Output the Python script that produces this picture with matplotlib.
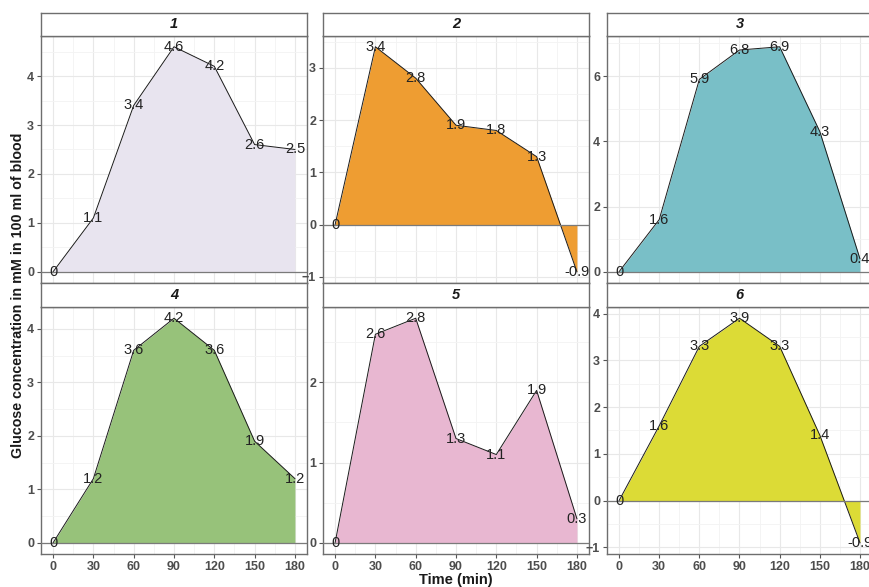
import matplotlib
matplotlib.use("Agg")
import matplotlib.pyplot as plt
from matplotlib.ticker import MultipleLocator, AutoMinorLocator

plt.rcParams['font.family'] = ['Liberation Sans', 'DejaVu Sans']

times = [0, 30, 60, 90, 120, 150, 180]
panel_names = ["1", "2", "3", "4", "5", "6"]
series_1 = [0, 1.1, 3.4, 4.6, 4.2, 2.6, 2.5]
series_2 = [0, 3.4, 2.8, 1.9, 1.8, 1.3, -0.9]
series_3 = [0, 1.6, 5.9, 6.8, 6.9, 4.3, 0.4]
series_4 = [0, 1.2, 3.6, 4.2, 3.6, 1.9, 1.2]
series_5 = [0, 2.6, 2.8, 1.3, 1.1, 1.9, 0.3]
series_6 = [0, 1.6, 3.3, 3.9, 3.3, 1.4, -0.9]
all_series = [series_1, series_2, series_3, series_4, series_5, series_6]
fill_colors = ["#E8E4EF", "#EE9D32", "#79BFC7", "#97C27A", "#E8B7D1", "#DCDB36"]
x_ticks = [0, 30, 60, 90, 120, 150, 180]
x_label = "Time (min)"
y_label = "Glucose concentration in mM in 100 ml of blood"

W, H = 870, 587
fig = plt.figure(figsize=(W / 100, H / 100), dpi=100)

col_px = [(41, 307), (323, 589), (607, 872)]
row_px = [(13, 35.5, 283), (283, 307, 554)]  # strip top, panel top, panel bottom

border = "#6E6E6E"
for i, (name, vals, col) in enumerate(zip(panel_names, all_series, fill_colors)):
    r, c = divmod(i, 3)
    x0, x1 = col_px[c]
    st, pt, pb = row_px[r]
    ax = fig.add_axes([x0 / W, 1 - pb / H, (x1 - x0) / W, (pb - pt) / H])
    sax = fig.add_axes([x0 / W, 1 - pt / H, (x1 - x0) / W, (pt - st) / H])

    # strip
    sax.set_xticks([]); sax.set_yticks([])
    sax.set_facecolor("white")
    for s in sax.spines.values():
        s.set_color(border); s.set_linewidth(1.0)
    sax.text(0.5, 0.5, name, ha="center", va="center", fontsize=10.5,
             fontweight="bold", fontstyle="italic", color="#1A1A1A", transform=sax.transAxes)

    # panel
    lo, hi = min(vals), max(vals)
    pad = 0.05 * (hi - lo)
    ax.set_ylim(lo - pad, hi + pad)
    ax.set_xlim(-9, 189)
    ax.set_axisbelow(True)
    ax.grid(which="major", color="#E8E8E8", linewidth=0.8)
    ax.grid(which="minor", color="#F3F3F3", linewidth=0.6)
    ax.set_xticks(x_ticks)
    ax.xaxis.set_minor_locator(AutoMinorLocator(2))
    step = 2 if (hi - lo) > 5 else 1
    ax.yaxis.set_major_locator(MultipleLocator(step))
    ax.yaxis.set_minor_locator(AutoMinorLocator(2))

    ax.fill_between(times, vals, 0, color=col, interpolate=True, linewidth=0, zorder=2)
    ax.plot(times, vals, color="#1A1A1A", linewidth=0.7, zorder=3)
    ax.axhline(0, color="#7A7A7A", linewidth=0.9, zorder=4)
    for t, v in zip(times, vals):
        ax.text(t, v, f"{v:g}", ha="center", va="center", fontsize=10.5,
                color="#222222", zorder=5)

    for s in ax.spines.values():
        s.set_color(border); s.set_linewidth(1.0)
    ax.tick_params(axis="both", which="major", length=3, color="#555555", width=0.8,
                   labelsize=9, labelcolor="#4D4D4D", pad=2)
    ax.tick_params(axis="both", which="minor", length=0)
    for lab in ax.get_yticklabels():
        lab.set_fontweight("bold")
    if r == 0:
        ax.tick_params(axis="x", which="major", length=0, labelbottom=False)
    else:
        for lab in ax.get_xticklabels():
            lab.set_fontweight("bold")

fig.text(((col_px[1][0] + col_px[1][1]) / 2) / W, 1 - 580 / H, x_label, ha="center", va="center",
         fontsize=10.5, fontweight="bold", color="#1A1A1A")
fig.text(18 / W, 1 - 295 / H, y_label, ha="center", va="center", rotation=90,
         fontsize=10.3, fontweight="bold", color="#1A1A1A")

fig.savefig("out.png", dpi=100, facecolor="white")
